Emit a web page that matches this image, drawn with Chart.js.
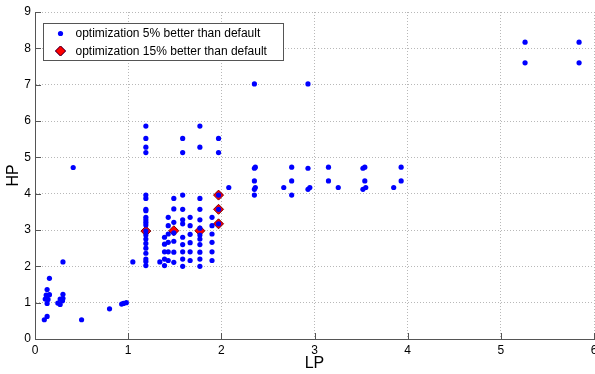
<!DOCTYPE html>
<html>
<head>
<meta charset="utf-8">
<script src="https://cdn.jsdelivr.net/npm/chart.js@4.4.0/dist/chart.umd.min.js"></script>
<style>
  html, body { margin: 0; padding: 0; background: #fff; }
  canvas { display: block; }
</style>
</head>
<body>
<canvas id="chart" width="595" height="374"></canvas>
<script>
// --- data ---
// 5% better than default (blue dots)
const lp5 = [
  0.10, 0.13, 0.50, 0.80, 0.93, 0.95, 0.98,
  0.11, 0.14, 0.13, 0.12, 0.155, 0.13, 0.155,
  0.245, 0.27, 0.27, 0.295, 0.30, 0.30, 0.30,
  0.41, 1.05, 1.34,
  1.19, 1.19, 1.19, 1.19, 1.19, 1.19, 1.19, 1.19, 1.19, 1.19, 1.19, 1.19, 1.19, 1.19, 1.19, 1.19, 1.19, 1.19, 1.19, 1.19, 1.19,
  1.39, 1.39, 1.39, 1.39, 1.39,
  1.43, 1.43, 1.43, 1.43, 1.43, 1.43,
  1.49, 1.49, 1.49, 1.49, 1.49, 1.49, 1.49,
  1.585, 1.585, 1.585, 1.585, 1.585, 1.585, 1.585, 1.585, 1.585, 1.585, 1.585,
  1.665, 1.665, 1.665, 1.665, 1.665, 1.665,
  1.77, 1.77, 1.77, 1.77, 1.77, 1.77, 1.77, 1.77, 1.77, 1.77, 1.77, 1.77,
  1.90, 1.90, 1.90, 1.90, 1.90, 1.90,
  1.97, 1.97, 1.97, 1.97, 1.97,
  2.08,
  2.355, 2.355, 2.355, 2.355, 2.355, 2.365, 2.365,
  2.67,
  2.755, 2.755, 2.755,
  2.93, 2.93, 2.93, 2.95,
  3.15, 3.15,
  3.255,
  3.52, 3.52, 3.54, 3.54, 3.55,
  3.85,
  3.93, 3.93,
  5.26, 5.26, 5.84, 5.84
];
const hp5 = [
  0.53, 0.62, 0.53, 0.83, 0.96, 0.98, 1.00,
  1.10, 1.09, 0.98, 1.21, 1.22, 1.36, 1.67,
  0.99, 0.95, 1.10, 1.05, 1.12, 1.23, 2.12,
  4.72, 2.12, 2.12,
  5.86, 5.52, 5.28, 5.13, 3.96, 3.87, 3.57, 3.53, 3.35, 3.28, 3.21, 3.14, 2.97, 2.86, 2.75, 2.63, 2.50, 2.36, 2.20, 2.13, 2.02,
  2.80, 2.61, 2.40, 2.20, 2.02,
  3.35, 3.12, 2.89, 2.66, 2.40, 2.16,
  3.87, 3.58, 3.21, 2.92, 2.69, 2.39, 2.11,
  5.52, 5.13, 3.96, 3.57, 3.28, 3.17, 2.80, 2.60, 2.40, 2.20, 2.00,
  3.35, 3.12, 2.88, 2.65, 2.40, 2.16,
  5.86, 5.28, 3.87, 3.57, 3.28, 3.05, 2.86, 2.75, 2.60, 2.39, 2.20, 2.00,
  3.35, 3.12, 2.89, 2.66, 2.40, 2.16,
  5.52, 5.13, 3.96, 3.57, 3.17,
  4.17,
  7.02, 4.70, 4.35, 4.12, 3.96, 4.73, 4.17,
  4.17,
  4.73, 4.35, 3.96,
  7.02, 4.70, 4.12, 4.17,
  4.73, 4.35,
  4.17,
  4.70, 4.12, 4.73, 4.35, 4.17,
  4.17,
  4.73, 4.35,
  8.17, 7.60, 8.17, 7.60
];
// 15% better than default (red diamonds)
const lp15 = [1.19, 1.49, 1.77, 1.97, 1.97, 1.97];
const hp15 = [2.97, 2.98, 2.98, 3.96, 3.57, 3.17];

const xTicks = [0, 1, 2, 3, 4, 5, 6];
const yTicks = [0, 1, 2, 3, 4, 5, 6, 7, 8, 9];
const seriesNames = ["optimization 5% better than default", "optimization 15% better than default"];

const FONT = "'Liberation Sans', Arial, sans-serif";
const axisColor = "#555555";
const gridColor = "#b8b8b8";

const toPoints = (xs, ys) => xs.map((x, i) => ({ x: x, y: ys[i] }));

// inward tick marks, MATLAB style
const innerTicks = {
  id: "innerTicks",
  afterDatasetsDraw(chart) {
    const { ctx, chartArea: a, scales: { x, y } } = chart;
    ctx.save();
    ctx.strokeStyle = axisColor;
    ctx.lineWidth = 1;
    ctx.beginPath();
    x.ticks.forEach(t => {
      const px = Math.round(x.getPixelForValue(t.value)) + 0.5;
      ctx.moveTo(px, a.bottom);
      ctx.lineTo(px, a.bottom - 6);
    });
    y.ticks.forEach(t => {
      const py = Math.round(y.getPixelForValue(t.value)) + 0.5;
      ctx.moveTo(a.left, py);
      ctx.lineTo(a.left + 6, py);
    });
    ctx.stroke();
    ctx.restore();
  }
};

// legend box inside the plot
const legendBox = {
  id: "legendBox",
  afterDraw(chart) {
    const { ctx, chartArea: a } = chart;
    const bx = Math.round(a.left + 8) + 0.5;
    const by = Math.round(a.top + 11) + 0.5;
    const bw = 240, bh = 37;
    ctx.save();
    ctx.fillStyle = "#ffffff";
    ctx.fillRect(bx, by, bw, bh);
    ctx.strokeStyle = "#555555";
    ctx.lineWidth = 1;
    ctx.strokeRect(bx, by, bw, bh);
    ctx.font = "12px " + FONT;
    ctx.textBaseline = "middle";
    chart.data.datasets.forEach((ds, i) => {
      const cy = by + 10 + i * 17.5;
      Chart.helpers.drawPoint(ctx, {
        pointStyle: ds.pointStyle,
        radius: ds.pointRadius,
        rotation: 0,
        borderWidth: ds.borderWidth
      }, bx + 17, cy);
      ctx.fillStyle = ds.backgroundColor;
      ctx.strokeStyle = ds.borderColor;
      ctx.lineWidth = ds.borderWidth;
      ctx.fill();
      if (ds.borderWidth) ctx.stroke();
      ctx.fillStyle = "#000000";
      ctx.fillText(seriesNames[i], bx + 32, cy + 0.5);
    });
    ctx.restore();
  }
};

new Chart(document.getElementById("chart"), {
  type: "scatter",
  data: {
    datasets: [
      {
        label: seriesNames[0],
        data: toPoints(lp5, hp5),
        pointStyle: "circle",
        pointRadius: 2.6,
        backgroundColor: "#0000ff",
        borderColor: "#0000ff",
        borderWidth: 0
      },
      {
        label: seriesNames[1],
        data: toPoints(lp15, hp15),
        pointStyle: "rectRot",
        pointRadius: 5,
        backgroundColor: "#ff0000",
        borderColor: "#7a0000",
        borderWidth: 1
      }
    ]
  },
  options: {
    responsive: false,
    animation: false,
    devicePixelRatio: 1,
    layout: { autoPadding: false, padding: { left: 0, right: 1, top: 12, bottom: 0 } },
    plugins: {
      legend: { display: false },
      tooltip: { enabled: false }
    },
    scales: {
      x: {
        type: "linear",
        min: 0,
        max: 6,
        afterBuildTicks: s => { s.ticks = xTicks.map(v => ({ value: v })); },
        afterFit: s => { s.height = 35; s.paddingLeft = 0; s.paddingRight = 0; },
        ticks: {
          color: "#000000",
          font: { family: FONT, size: 12 },
          padding: 4,
          maxRotation: 0
        },
        grid: { color: gridColor, drawTicks: false },
        border: { color: axisColor, width: 1, dash: [1, 2] },
        title: {
          display: true,
          text: "LP",
          color: "#000000",
          font: { family: FONT, size: 16 },
          padding: { top: 0, bottom: 1 }
        }
      },
      y: {
        type: "linear",
        min: 0,
        max: 9,
        afterBuildTicks: s => { s.ticks = yTicks.map(v => ({ value: v })); },
        afterFit: s => { s.width = 35; s.paddingTop = 0; s.paddingBottom = 0; },
        ticks: {
          color: "#000000",
          font: { family: FONT, size: 12 },
          padding: 4
        },
        grid: { color: gridColor, drawTicks: false },
        border: { color: axisColor, width: 1, dash: [1, 2] },
        title: {
          display: true,
          text: "HP",
          color: "#000000",
          font: { family: FONT, size: 16 },
          padding: { top: 4, bottom: 0 }
        }
      }
    }
  },
  plugins: [innerTicks, legendBox]
});
</script>
</body>
</html>
